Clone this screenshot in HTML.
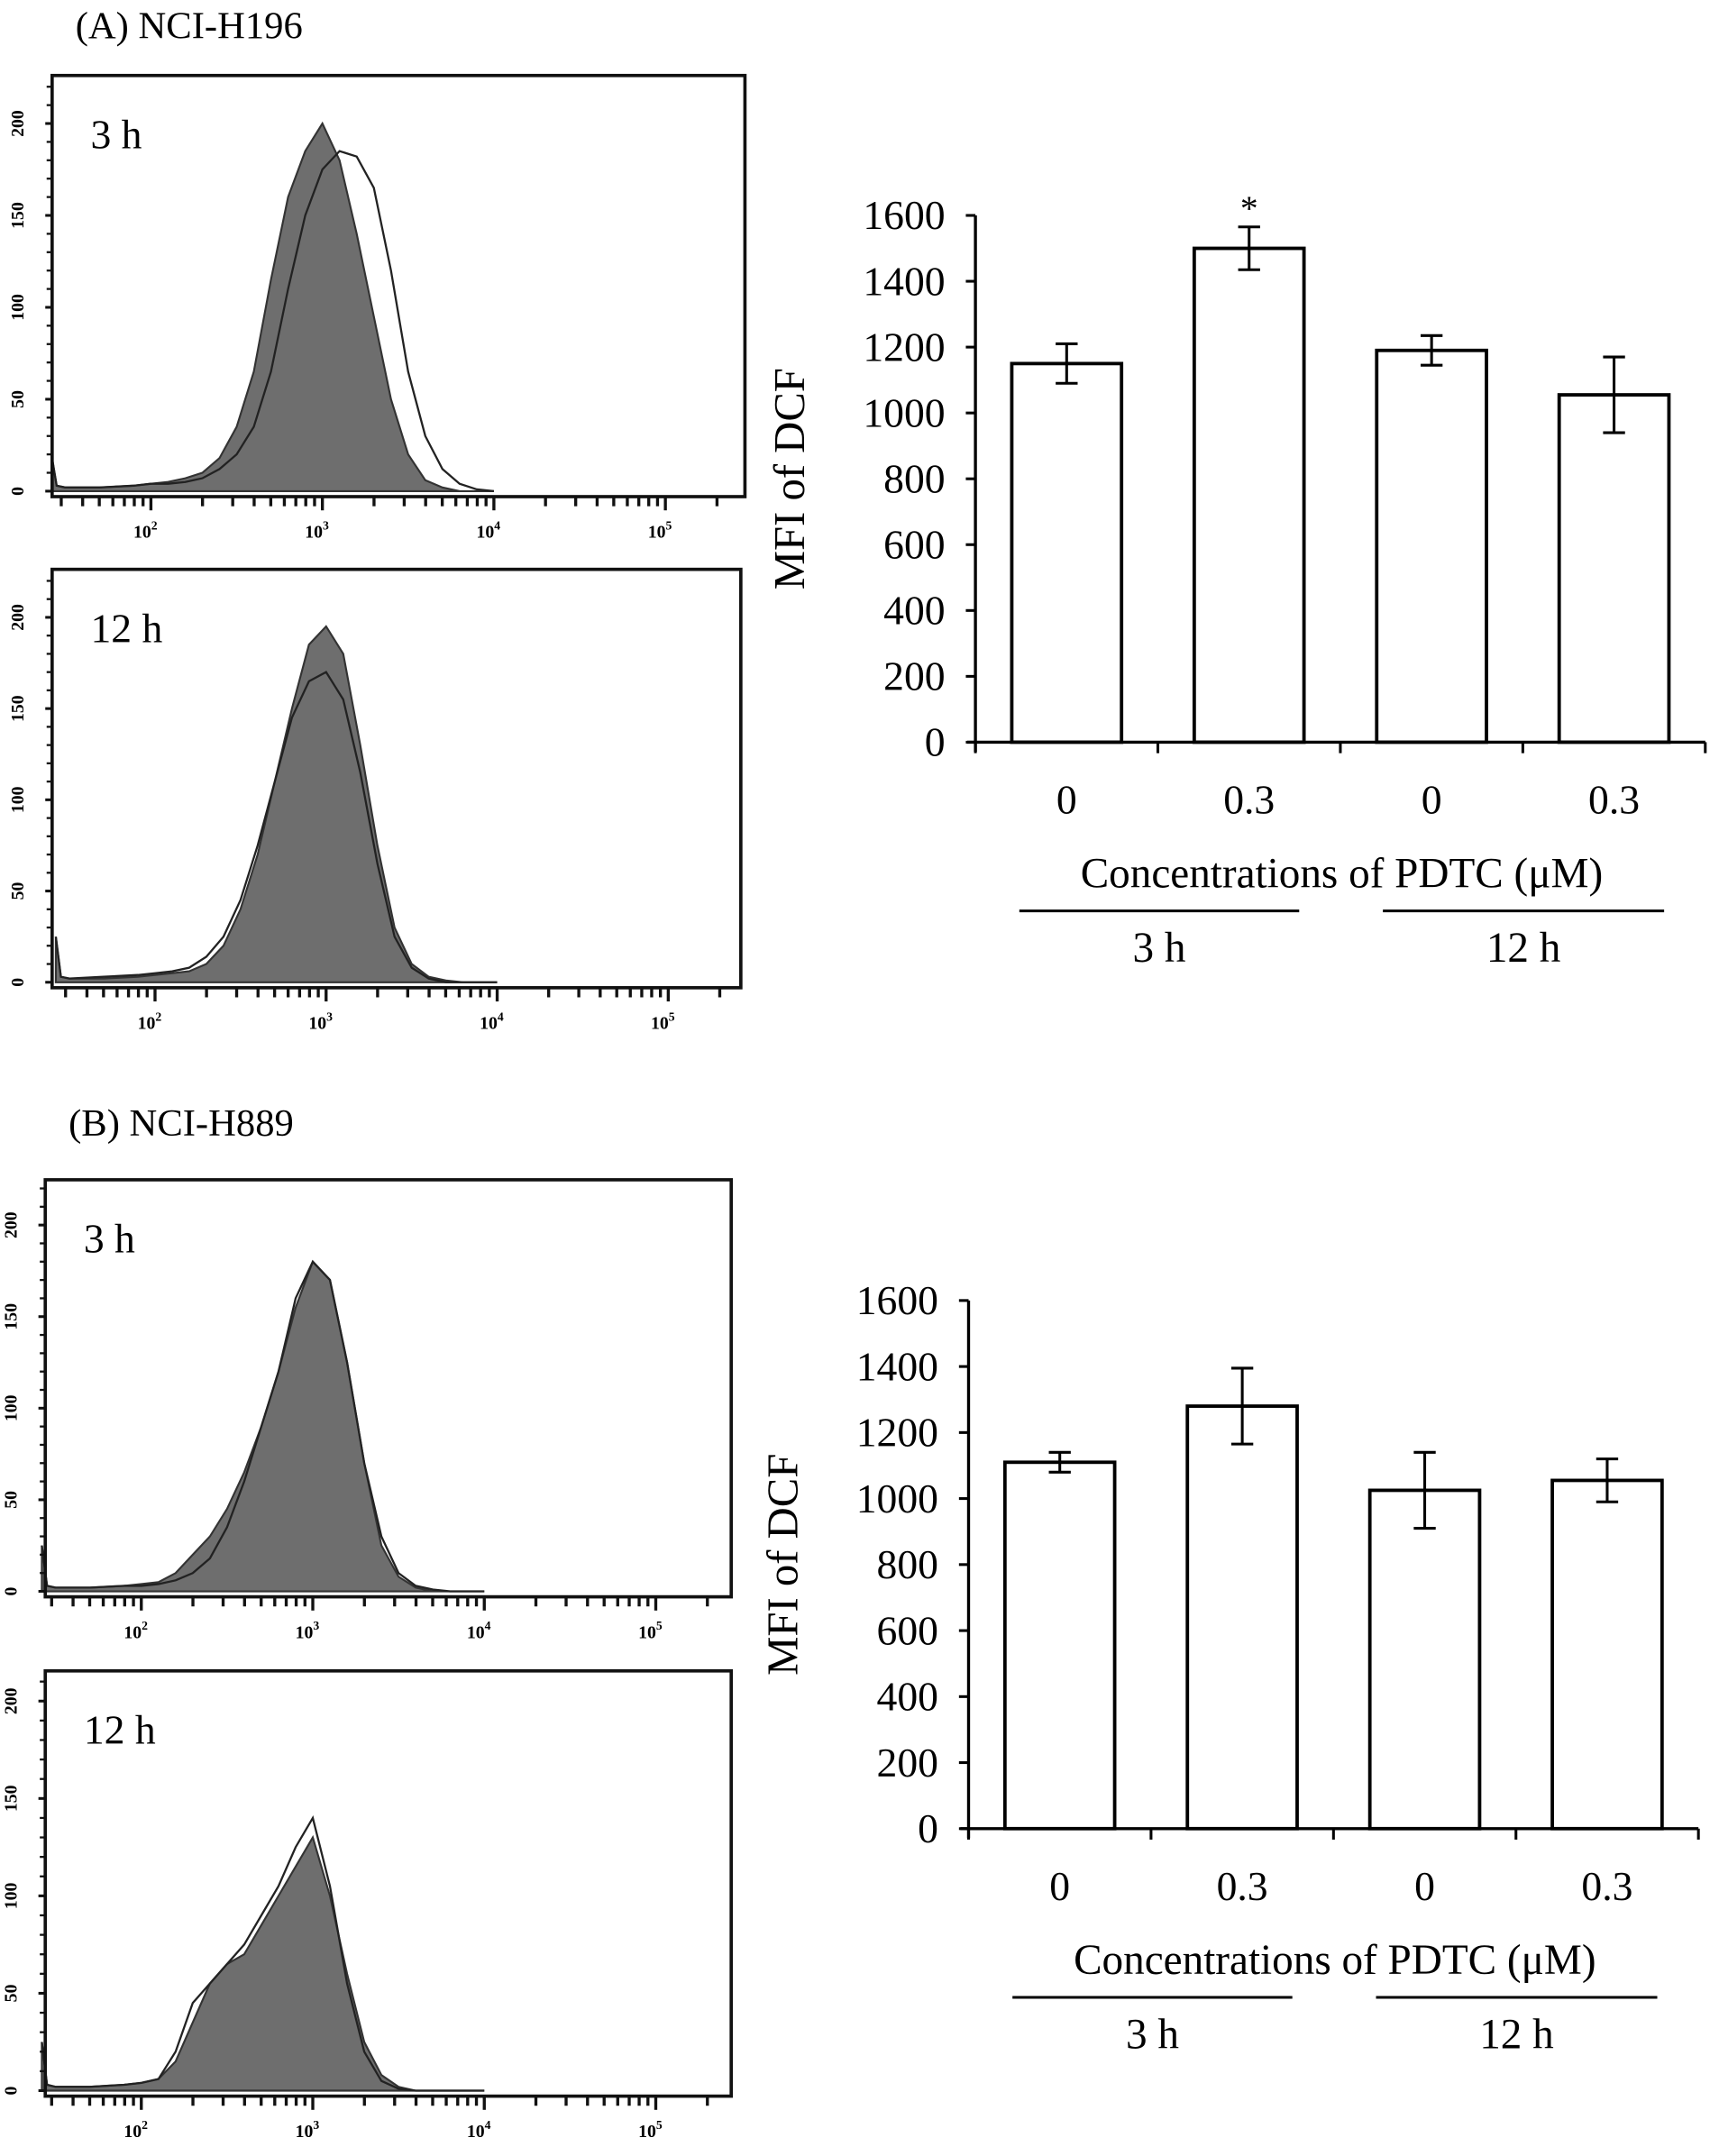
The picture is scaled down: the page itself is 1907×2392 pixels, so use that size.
<!DOCTYPE html>
<html><head><meta charset="utf-8"><style>
html,body{margin:0;padding:0;background:#fff}
svg{display:block}
text{font-family:"Liberation Serif",serif;fill:#000}
</style></head><body>
<svg id="fig" width="1907" height="2392" viewBox="0 0 1253 1571.6" xmlns="http://www.w3.org/2000/svg">
<text x="55" y="28" font-size="28">(A) NCI-H196</text>
<text x="50" y="828" font-size="28">(B) NCI-H889</text>
</svg>
<script>
// ---- histogram data ----
const logGrid = [1.42,1.45,1.5,1.7,1.9,2.0,2.1,2.2,2.3,2.4,2.5,2.6,2.7,2.8,2.9,3.0,3.1,3.2,3.3,3.4,3.5,3.6,3.7,3.8,3.9,4.0];
const histA1Fill = [20,3,2,2,3,4,5,7,10,18,35,65,115,160,185,200,180,140,95,50,20,6,2,0,0,0];
const histA1Line = [20,3,2,2,3,4,4,5,7,12,20,35,65,110,150,175,185,182,165,120,65,30,12,4,1,0];
const histA2Fill = [25,3,2,2,3,4,5,6,10,20,40,70,110,150,185,195,180,130,75,30,10,3,1,0,0,0];
const histA2Line = [25,3,2,3,4,5,6,8,14,25,45,75,110,145,165,170,155,115,65,25,8,2,0,0,0,0];
const histB1Fill = [25,3,2,2,3,4,5,10,20,30,45,65,90,120,155,180,170,125,70,25,8,2,0,0,0,0];
const histB1Line = [25,3,2,2,3,3,4,6,10,18,35,60,90,120,160,180,170,125,70,30,10,3,1,0,0,0];
const histB2Fill = [25,3,2,2,3,4,6,15,35,55,65,70,85,100,115,130,100,60,25,8,2,0,0,0,0,0];
const histB2Line = [25,3,2,2,3,4,6,20,45,55,65,75,90,105,125,140,105,55,20,5,1,0,0,0,0,0];
const histYTicks = [0,50,100,150,200];
const histDecades = [2,3,4,5];
// ---- bar data ----
const barCategories = ["0","0.3","0","0.3"];
const barA = [1150,1500,1190,1055];
const errA = [60,65,45,115];
const barB = [1110,1280,1025,1055];
const errB = [30,115,115,65];
const barYTicks = [0,200,400,600,800,1000,1200,1400,1600];

const NS="http://www.w3.org/2000/svg";
const svg=document.getElementById('fig');
function el(tag,attrs,parent){const e=document.createElementNS(NS,tag);for(const k in attrs)e.setAttribute(k,attrs[k]);(parent||svg).appendChild(e);return e;}

function histogram(name,box,label,fillData,lineData){
  const g=el('g',{});
  
  
  const x0=box.x0,x1=box.x1,yTop=box.yTop,yZero=box.yZero,y200=box.y200,dec2=box.dec2,decW=box.decW;
  const sx=l=>dec2+(l-2)*decW;
  const sy=v=>yZero+(y200-yZero)*v/200;
  const fp=logGrid.map((l,i)=>sx(l).toFixed(1)+','+sy(fillData[i]).toFixed(1));
  const fill=el('polygon',{points:sx(logGrid[0])+','+yZero+' '+fp.join(' ')+' '+sx(logGrid[logGrid.length-1])+','+yZero,fill:'#6e6e6e',stroke:'#333','stroke-width':1.4},g);
  
  
  const lp=logGrid.map((l,i)=>sx(l).toFixed(1)+','+sy(lineData[i]).toFixed(1));
  const line=el('polyline',{points:lp.join(' '),fill:'none',stroke:'#222','stroke-width':1.5},g);
  
  
  el('rect',{x:x0,y:yTop,width:x1-x0,height:yZero+4-yTop,fill:'none',stroke:'#111','stroke-width':2.4},g);
  histYTicks.forEach(v=>{
    const y=sy(v);
    el('line',{x1:x0-5,x2:x0,y1:y,y2:y,stroke:'#111','stroke-width':2},g);
    const t=el('text',{x:0,y:0,'font-size':13,'font-family':'Liberation Sans','font-weight':'bold','text-anchor':'middle',transform:`translate(${x0-21},${y}) rotate(-90)`},g);
    t.textContent=v;
    
    
  });
  for(let y=yZero;y>yTop+5;y-=(yZero-y200)/20){el('line',{x1:x0-4,x2:x0,y1:y,y2:y,stroke:'#111','stroke-width':1.5},g);}
  const yb=yZero+4;
  for(let d=1;d<=5;d++){for(let k=1;k<10;k++){const l=d+Math.log10(k);const x=sx(l);if(x<x0+2||x>x1-2)continue;el('line',{x1:x,x2:x,y1:yb,y2:yb+(k===1?10:7),stroke:'#111','stroke-width':2.2},g);}}
  histDecades.forEach(d=>{
    const t=el('text',{x:sx(d)-4,y:yb+30,'font-size':13,'font-family':'Liberation Sans','font-weight':'bold','text-anchor':'middle'},g);
    t.textContent='10';
    const s=el('tspan',{dy:-6,'font-size':9},t);s.textContent=d;
    
    
  });
  const lt=el('text',{x:x0+28,y:yTop+53,'font-size':30},g);
  lt.textContent=label;
  
  
}
histogram('histogram-a-3h',{x0:38,x1:543,yTop:55,yZero:358,y200:90,dec2:110,decW:125},'3 h',histA1Fill,histA1Line);
histogram('histogram-a-12h',{x0:38,x1:540,yTop:415,yZero:716,y200:450,dec2:113,decW:124.7},'12 h',histA2Fill,histA2Line);
histogram('histogram-b-3h',{x0:33,x1:533,yTop:860,yZero:1160,y200:893,dec2:103,decW:125},'3 h',histB1Fill,histB1Line);
histogram('histogram-b-12h',{x0:33,x1:533,yTop:1218,yZero:1524,y200:1240,dec2:103,decW:125},'12 h',histB2Fill,histB2Line);

function barChart(name,c,vals,errs,star){
  const g=el('g',{});
  
  
  const sy=v=>c.y0+(c.y1600-c.y0)*v/1600;
  const slot=(c.xEnd-c.ax)/vals.length;
  const bw=80;
  vals.forEach((v,i)=>{
    const cx=c.ax+slot*(i+0.5);
    const r=el('rect',{x:cx-bw/2,y:sy(v),width:bw,height:c.y0-sy(v),fill:'#fff',stroke:'#000','stroke-width':2.5},g);
    
    
    const e1=sy(v+errs[i]),e2=sy(v-errs[i]);
    const eb=el('path',{d:`M${cx},${e1}V${e2}M${cx-8},${e1}H${cx+8}M${cx-8},${e2}H${cx+8}`,stroke:'#000','stroke-width':2,fill:'none'},g);
    
    
    const t=el('text',{x:cx,y:c.y0+52,'font-size':30,'text-anchor':'middle'},g);
    t.textContent=barCategories[i];
    
    
    if(star&&star[i]){const s=el('text',{x:cx,y:sy(v+errs[i])-5,'font-size':26,'text-anchor':'middle'},g);s.textContent='*';
      
      }
  });
  el('line',{x1:c.ax,x2:c.ax,y1:sy(1600),y2:c.y0+7,stroke:'#000','stroke-width':2.2},g);
  el('line',{x1:c.ax-6,x2:c.xEnd,y1:c.y0,y2:c.y0,stroke:'#000','stroke-width':2.2},g);
  for(let i=0;i<=vals.length;i++){const x=c.ax+slot*i;el('line',{x1:x,x2:x,y1:c.y0,y2:c.y0+8,stroke:'#000','stroke-width':2},g);}
  barYTicks.forEach(v=>{
    el('line',{x1:c.ax-7,x2:c.ax,y1:sy(v),y2:sy(v),stroke:'#000','stroke-width':2},g);
    const t=el('text',{x:c.ax-22,y:sy(v)+10,'font-size':30,'text-anchor':'end'},g);
    t.textContent=v;
    
    
  });
  const yt=el('text',{x:0,y:0,'font-size':32,'text-anchor':'middle',transform:`translate(${c.ax-125},${(sy(0)+sy(1600))/2}) rotate(-90)`},g);
  yt.textContent='MFI of DCF';
  
  
  const xt=el('text',{x:c.ax+267,y:c.y0+106,'font-size':31,'text-anchor':'middle'},g);
  xt.textContent='Concentrations of PDTC (\u03bcM)';
  
  
  const gl=[[c.ax+32,c.ax+236,'3 h'],[c.ax+297,c.ax+502,'12 h']];
  gl.forEach(([a,b,l])=>{
    el('line',{x1:a,x2:b,y1:c.y0+123,y2:c.y0+123,stroke:'#000','stroke-width':2},g);
    const t=el('text',{x:(a+b)/2,y:c.y0+160,'font-size':31,'text-anchor':'middle'},g);
    t.textContent=l;
    
    
  });
}
barChart('bar-chart-a',{ax:711,xEnd:1243,y0:541,y1600:157},barA,errA,[0,1,0,0]);
barChart('bar-chart-b',{ax:706,xEnd:1238,y0:1333,y1600:948},barB,errB,null);
</script>
</body></html>
